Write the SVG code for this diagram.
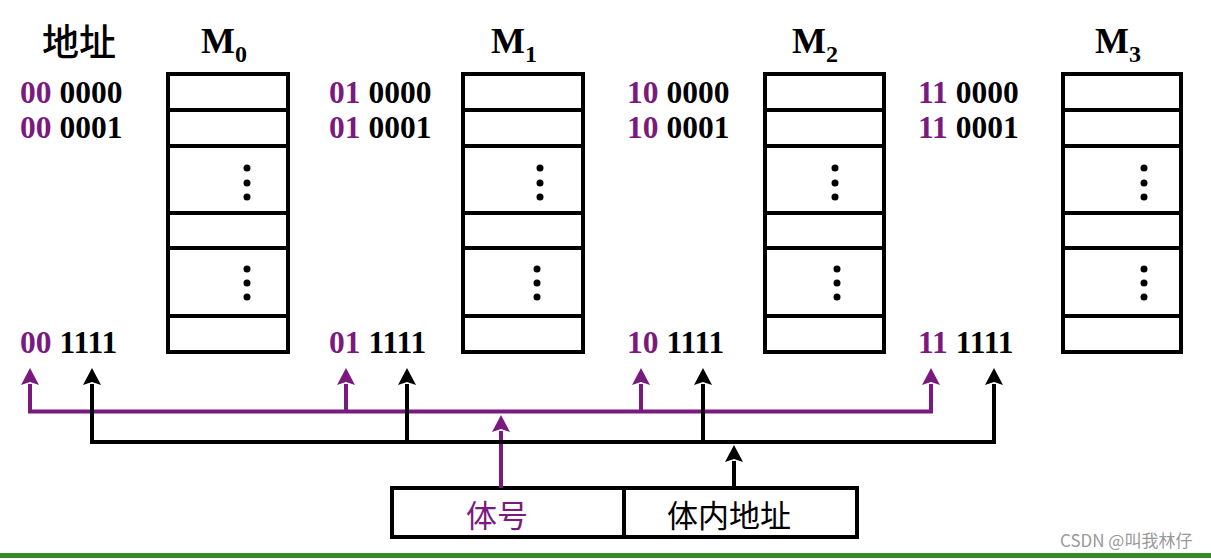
<svg xmlns="http://www.w3.org/2000/svg" width="1211" height="559" viewBox="0 0 1211 559">
<style>
.bank{fill:#fff;stroke:#000;stroke-width:4}
.row{stroke:#000;stroke-width:4}
.dot{fill:#000}
.addr{font-family:"Liberation Serif","Times New Roman",serif;font-weight:bold;font-size:31.5px;fill:#000}
.p{fill:#7b1a7e}
.mlab{font-family:"Liberation Serif","Times New Roman",serif;font-weight:bold;font-size:36px;fill:#000}
.sub{font-size:24px}
.cjk{font-family:"Noto Sans CJK SC",sans-serif;font-size:31px}
.head{font-size:37px;font-weight:500}
.pl{fill:none;stroke:#7b1a7e;stroke-width:4}
.bl{fill:none;stroke:#000;stroke-width:4}
</style>
<defs>
<marker id="ap" viewBox="0 0 17 18" refX="1" refY="9" markerWidth="17" markerHeight="18" markerUnits="userSpaceOnUse" orient="auto-start-reverse"><path d="M0,0 L17,9 L0,18 L3,9 z" fill="#7b1a7e"/></marker>
<marker id="ab" viewBox="0 0 17 18" refX="1" refY="9" markerWidth="17" markerHeight="18" markerUnits="userSpaceOnUse" orient="auto-start-reverse"><path d="M0,0 L17,9 L0,18 L3,9 z" fill="#000"/></marker>
</defs>
<rect width="1211" height="559" fill="#fff"/>

<g id="header-addr"><text class="cjk head" x="79" y="56" text-anchor="middle">地址</text></g>

<g id="M0">
<text class="mlab" x="201" y="53">M<tspan class="sub" dy="9">0</tspan></text>
<rect class="bank" x="168" y="74" width="120" height="278"/>
<line class="row" x1="168" y1="110" x2="288" y2="110"/><line class="row" x1="168" y1="146" x2="288" y2="146"/><line class="row" x1="168" y1="213" x2="288" y2="213"/><line class="row" x1="168" y1="248" x2="288" y2="248"/><line class="row" x1="168" y1="316" x2="288" y2="316"/>
<circle class="dot" cx="247" cy="168" r="3.5"/><circle class="dot" cx="247" cy="183" r="3.5"/><circle class="dot" cx="247" cy="197" r="3.5"/>
<circle class="dot" cx="247" cy="269" r="3.5"/><circle class="dot" cx="247" cy="283" r="3.5"/><circle class="dot" cx="247" cy="297" r="3.5"/>
</g>
<g id="M1">
<text class="mlab" x="491" y="53">M<tspan class="sub" dy="9">1</tspan></text>
<rect class="bank" x="463" y="74" width="120" height="278"/>
<line class="row" x1="463" y1="110" x2="583" y2="110"/><line class="row" x1="463" y1="146" x2="583" y2="146"/><line class="row" x1="463" y1="213" x2="583" y2="213"/><line class="row" x1="463" y1="248" x2="583" y2="248"/><line class="row" x1="463" y1="316" x2="583" y2="316"/>
<circle class="dot" cx="540" cy="168" r="3.5"/><circle class="dot" cx="540" cy="183" r="3.5"/><circle class="dot" cx="540" cy="197" r="3.5"/>
<circle class="dot" cx="537" cy="269" r="3.5"/><circle class="dot" cx="537" cy="283" r="3.5"/><circle class="dot" cx="537" cy="297" r="3.5"/>
</g>
<g id="M2">
<text class="mlab" x="792" y="53">M<tspan class="sub" dy="9">2</tspan></text>
<rect class="bank" x="765" y="74" width="119" height="278"/>
<line class="row" x1="765" y1="110" x2="884" y2="110"/><line class="row" x1="765" y1="146" x2="884" y2="146"/><line class="row" x1="765" y1="213" x2="884" y2="213"/><line class="row" x1="765" y1="248" x2="884" y2="248"/><line class="row" x1="765" y1="316" x2="884" y2="316"/>
<circle class="dot" cx="835" cy="168" r="3.5"/><circle class="dot" cx="835" cy="183" r="3.5"/><circle class="dot" cx="835" cy="197" r="3.5"/>
<circle class="dot" cx="837" cy="269" r="3.5"/><circle class="dot" cx="837" cy="283" r="3.5"/><circle class="dot" cx="837" cy="297" r="3.5"/>
</g>
<g id="M3">
<text class="mlab" x="1095" y="53">M<tspan class="sub" dy="9">3</tspan></text>
<rect class="bank" x="1063" y="74" width="118" height="278"/>
<line class="row" x1="1063" y1="110" x2="1181" y2="110"/><line class="row" x1="1063" y1="146" x2="1181" y2="146"/><line class="row" x1="1063" y1="213" x2="1181" y2="213"/><line class="row" x1="1063" y1="248" x2="1181" y2="248"/><line class="row" x1="1063" y1="316" x2="1181" y2="316"/>
<circle class="dot" cx="1144" cy="168" r="3.5"/><circle class="dot" cx="1144" cy="183" r="3.5"/><circle class="dot" cx="1144" cy="197" r="3.5"/>
<circle class="dot" cx="1144" cy="269" r="3.5"/><circle class="dot" cx="1144" cy="283" r="3.5"/><circle class="dot" cx="1144" cy="297" r="3.5"/>
</g>

<g id="addr0">
<text class="addr" x="20" y="103"><tspan class="p">00</tspan> 0000</text>
<text class="addr" x="20" y="138"><tspan class="p">00</tspan> 0001</text>
<text class="addr" x="20" y="353"><tspan class="p">00</tspan> 1111</text>
</g>
<g id="addr1">
<text class="addr" x="329" y="103"><tspan class="p">01</tspan> 0000</text>
<text class="addr" x="329" y="138"><tspan class="p">01</tspan> 0001</text>
<text class="addr" x="329" y="353"><tspan class="p">01</tspan> 1111</text>
</g>
<g id="addr2">
<text class="addr" x="627" y="103"><tspan class="p">10</tspan> 0000</text>
<text class="addr" x="627" y="138"><tspan class="p">10</tspan> 0001</text>
<text class="addr" x="627" y="353"><tspan class="p">10</tspan> 1111</text>
</g>
<g id="addr3">
<text class="addr" x="918" y="103"><tspan class="p">11</tspan> 0000</text>
<text class="addr" x="918" y="138"><tspan class="p">11</tspan> 0001</text>
<text class="addr" x="918" y="353"><tspan class="p">11</tspan> 1111</text>
</g>

<g id="address-register">
<rect x="392" y="488" width="465" height="49" fill="#fff" stroke="#000" stroke-width="4"/>
<line x1="624" y1="488" x2="624" y2="537" stroke="#000" stroke-width="4"/>
<text class="cjk p" x="497" y="527" text-anchor="middle">体号</text>
<text class="cjk" x="729" y="527" text-anchor="middle">体内地址</text>
</g>

<g id="connectors">
<path class="pl" d="M30,384 V411.5 H931 V384" marker-start="url(#ap)" marker-end="url(#ap)"/>
<path class="pl" d="M346,411.5 V384" marker-end="url(#ap)"/>
<path class="pl" d="M641,411.5 V384" marker-end="url(#ap)"/>
<path class="pl" d="M501,488 V431" marker-end="url(#ap)"/>
<path class="bl" d="M92,384 V442 H994 V384" marker-start="url(#ab)" marker-end="url(#ab)"/>
<path class="bl" d="M407,442 V384" marker-end="url(#ab)"/>
<path class="bl" d="M703,442 V384" marker-end="url(#ab)"/>
<path class="bl" d="M734,488 V461" marker-end="url(#ab)"/>
</g>

<rect x="0" y="553" width="1211" height="5" fill="#358a26"/>
<text x="1060" y="547" font-family="'Noto Sans CJK SC',sans-serif" font-size="17" fill="#999">CSDN @叫我林仔</text>
</svg>
